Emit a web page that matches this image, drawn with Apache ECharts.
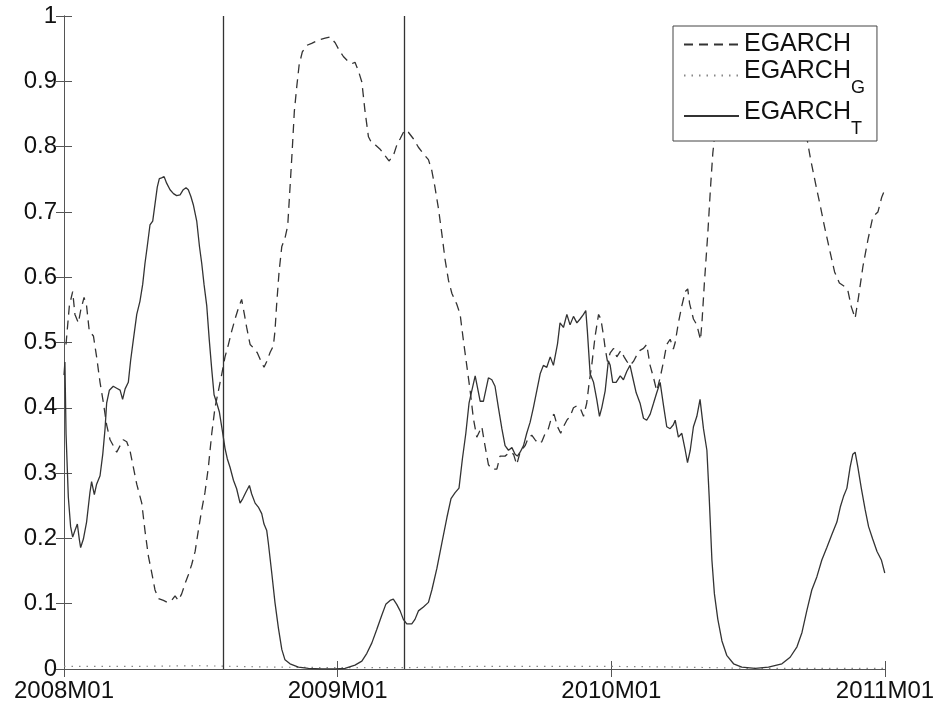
<!DOCTYPE html>
<html>
<head>
<meta charset="utf-8">
<script src="https://cdn.jsdelivr.net/npm/echarts@6/dist/echarts.min.js"></script>
<style>
html,body{margin:0;padding:0;background:#fff;}
#chart{width:942px;height:708px;}
</style>
</head>
<body>
<div id="chart"></div>
<script>
// x values are months since 2008M01
var xTickLabels = ['2008M01', '2009M01', '2010M01', '2011M01'];
var seriesNames = ['EGARCH', 'EGARCH_G', 'EGARCH_T'];
var regimeBreaks = [6.97, 14.93];

var egarch = [
[0.088,0.497],[0.234,0.556],[0.38,0.578],[0.48,0.543],[0.63,0.530],[0.73,0.549],[0.88,0.569],[0.99,0.556],[1.11,0.517],[1.29,0.510],[1.43,0.478],[1.58,0.439],[1.73,0.407],[1.87,0.374],[2.02,0.351],[2.16,0.342],[2.31,0.332],[2.46,0.342],[2.60,0.351],[2.75,0.348],[2.89,0.335],[3.04,0.309],[3.19,0.283],[3.41,0.254],[3.55,0.212],[3.70,0.173],[3.85,0.147],[3.99,0.121],[4.14,0.108],[4.36,0.105],[4.53,0.102],[4.72,0.105],[4.87,0.112],[5.01,0.105],[5.16,0.115],[5.31,0.131],[5.45,0.144],[5.60,0.160],[5.75,0.180],[5.89,0.212],[6.04,0.244],[6.18,0.270],[6.33,0.309],[6.48,0.361],[6.62,0.400],[6.77,0.426],[6.92,0.452],[7.06,0.478],[7.21,0.497],[7.35,0.517],[7.50,0.536],[7.65,0.553],[7.79,0.566],[7.91,0.543],[8.01,0.523],[8.16,0.497],[8.33,0.491],[8.48,0.484],[8.64,0.471],[8.77,0.462],[8.89,0.471],[9.04,0.485],[9.18,0.495],[9.25,0.517],[9.32,0.556],[9.43,0.608],[9.55,0.647],[9.69,0.660],[9.81,0.679],[9.91,0.737],[10.01,0.796],[10.10,0.854],[10.21,0.893],[10.31,0.925],[10.45,0.945],[10.64,0.955],[10.86,0.958],[11.15,0.963],[11.45,0.966],[11.67,0.968],[11.89,0.959],[12.06,0.948],[12.25,0.938],[12.44,0.931],[12.62,0.927],[12.76,0.929],[12.91,0.916],[13.06,0.899],[13.20,0.854],[13.35,0.815],[13.50,0.805],[13.67,0.802],[13.86,0.796],[14.08,0.786],[14.25,0.778],[14.44,0.786],[14.59,0.802],[14.74,0.812],[14.93,0.825],[15.10,0.822],[15.32,0.812],[15.54,0.799],[15.76,0.789],[15.98,0.780],[16.13,0.763],[16.27,0.737],[16.42,0.705],[16.57,0.666],[16.71,0.627],[16.86,0.595],[17.01,0.575],[17.22,0.559],[17.37,0.543],[17.51,0.504],[17.66,0.465],[17.81,0.426],[17.95,0.384],[18.10,0.355],[18.32,0.371],[18.46,0.342],[18.61,0.313],[18.76,0.306],[18.98,0.306],[19.12,0.326],[19.34,0.326],[19.56,0.332],[19.71,0.329],[19.85,0.313],[20.00,0.332],[20.22,0.342],[20.37,0.355],[20.51,0.358],[20.66,0.351],[20.80,0.345],[20.95,0.348],[21.10,0.361],[21.24,0.368],[21.39,0.387],[21.49,0.390],[21.64,0.371],[21.78,0.361],[21.90,0.371],[22.05,0.381],[22.19,0.387],[22.34,0.400],[22.49,0.403],[22.63,0.400],[22.78,0.387],[22.92,0.407],[23.03,0.439],[23.14,0.465],[23.29,0.510],[23.44,0.543],[23.54,0.536],[23.66,0.510],[23.73,0.491],[23.83,0.471],[23.95,0.484],[24.10,0.491],[24.24,0.478],[24.42,0.488],[24.56,0.478],[24.68,0.471],[24.82,0.465],[24.97,0.471],[25.12,0.481],[25.26,0.488],[25.41,0.491],[25.55,0.497],[25.70,0.465],[25.85,0.446],[25.99,0.426],[26.14,0.446],[26.29,0.471],[26.43,0.497],[26.58,0.505],[26.72,0.490],[26.80,0.500],[26.94,0.530],[27.09,0.556],[27.24,0.578],[27.35,0.582],[27.43,0.560],[27.60,0.536],[27.75,0.527],[27.91,0.504],[27.98,0.534],[28.08,0.591],[28.23,0.667],[28.35,0.738],[28.45,0.790],[28.60,0.84],[28.86,0.89],[29.43,0.92],[30.53,0.93],[31.62,0.91],[32.28,0.86],[32.54,0.82],[32.73,0.782],[32.98,0.739],[33.17,0.708],[33.35,0.677],[33.57,0.642],[33.79,0.608],[34.00,0.591],[34.22,0.586],[34.37,0.580],[34.52,0.555],[34.69,0.537],[34.84,0.570],[35.03,0.616],[35.25,0.657],[35.47,0.693],[35.69,0.700],[35.86,0.723],[35.98,0.733]
];

var egarchG = [
[0,0.004],[3,0.004],[6,0.005],[9,0.003],[12,0.002],[15,0.002],[18,0.004],[21,0.004],[24,0.004],[27,0.003],[30,0.001],[33,0.001],[36,0.001]
];

var egarchT = [
[0.00,0.45],[0.04,0.47],[0.09,0.36],[0.19,0.263],[0.29,0.218],[0.38,0.202],[0.48,0.212],[0.585,0.222],[0.67,0.199],[0.73,0.186],[0.85,0.199],[0.99,0.225],[1.14,0.271],[1.21,0.287],[1.33,0.267],[1.43,0.283],[1.58,0.296],[1.70,0.329],[1.80,0.368],[1.87,0.407],[1.99,0.427],[2.16,0.433],[2.31,0.430],[2.46,0.427],[2.57,0.413],[2.68,0.429],[2.82,0.439],[2.92,0.472],[3.04,0.504],[3.19,0.543],[3.33,0.563],[3.45,0.589],[3.55,0.621],[3.65,0.647],[3.77,0.680],[3.89,0.686],[3.99,0.712],[4.09,0.738],[4.18,0.751],[4.28,0.752],[4.39,0.754],[4.50,0.744],[4.65,0.734],[4.80,0.728],[4.94,0.725],[5.09,0.726],[5.23,0.734],[5.35,0.737],[5.45,0.734],[5.56,0.724],[5.67,0.711],[5.82,0.686],[5.94,0.647],[6.04,0.621],[6.14,0.589],[6.26,0.556],[6.37,0.504],[6.48,0.458],[6.58,0.420],[6.70,0.407],[6.81,0.394],[6.96,0.361],[7.06,0.338],[7.16,0.322],[7.28,0.309],[7.43,0.289],[7.57,0.276],[7.72,0.254],[7.84,0.261],[7.98,0.271],[8.13,0.281],[8.23,0.268],[8.38,0.254],[8.52,0.248],[8.67,0.238],[8.77,0.222],[8.89,0.212],[8.96,0.193],[9.11,0.147],[9.25,0.102],[9.40,0.063],[9.55,0.030],[9.69,0.014],[9.91,0.008],[10.28,0.003],[10.72,0.001],[11.30,0.0],[11.89,0.0],[12.32,0.001],[12.76,0.006],[13.06,0.012],[13.28,0.024],[13.50,0.040],[13.71,0.060],[13.93,0.082],[14.11,0.099],[14.30,0.105],[14.44,0.107],[14.59,0.099],[14.74,0.089],[14.88,0.076],[15.03,0.069],[15.25,0.069],[15.39,0.076],[15.54,0.089],[15.76,0.095],[15.98,0.102],[16.13,0.121],[16.35,0.154],[16.57,0.193],[16.79,0.232],[16.97,0.261],[17.15,0.270],[17.32,0.277],[17.47,0.322],[17.62,0.361],[17.76,0.407],[17.88,0.426],[18.03,0.449],[18.25,0.410],[18.39,0.410],[18.61,0.446],[18.76,0.443],[18.90,0.433],[19.05,0.400],[19.20,0.368],[19.34,0.342],[19.49,0.335],[19.64,0.339],[19.78,0.329],[19.88,0.326],[20.00,0.332],[20.15,0.342],[20.29,0.361],[20.44,0.378],[20.58,0.400],[20.73,0.426],[20.88,0.452],[21.02,0.465],[21.17,0.462],[21.32,0.478],[21.46,0.465],[21.64,0.498],[21.75,0.530],[21.90,0.523],[22.05,0.543],[22.19,0.527],[22.34,0.540],[22.49,0.530],[22.63,0.536],[22.78,0.543],[22.88,0.549],[22.95,0.517],[23.07,0.452],[23.22,0.439],[23.36,0.413],[23.48,0.387],[23.58,0.400],[23.73,0.426],[23.87,0.472],[23.95,0.465],[24.06,0.439],[24.21,0.439],[24.39,0.449],[24.53,0.443],[24.68,0.456],[24.82,0.465],[24.94,0.446],[25.09,0.423],[25.26,0.407],[25.41,0.384],[25.55,0.381],[25.70,0.390],[25.85,0.407],[25.99,0.423],[26.14,0.439],[26.29,0.403],[26.43,0.371],[26.58,0.368],[26.72,0.374],[26.80,0.381],[26.94,0.355],[27.09,0.361],[27.24,0.335],[27.34,0.316],[27.46,0.335],[27.60,0.371],[27.75,0.387],[27.89,0.413],[28.04,0.368],[28.19,0.335],[28.29,0.264],[28.41,0.167],[28.52,0.115],[28.67,0.076],[28.85,0.043],[29.06,0.021],[29.36,0.008],[29.72,0.003],[30.31,0.001],[30.89,0.003],[31.48,0.008],[31.84,0.018],[32.14,0.034],[32.36,0.056],[32.57,0.089],[32.79,0.121],[33.01,0.141],[33.23,0.167],[33.45,0.186],[33.67,0.206],[33.89,0.225],[34.04,0.248],[34.18,0.264],[34.33,0.277],[34.47,0.309],[34.59,0.329],[34.69,0.332],[34.81,0.309],[34.96,0.277],[35.13,0.244],[35.28,0.218],[35.46,0.199],[35.65,0.180],[35.84,0.167],[35.99,0.147]
];

var FONT = '"Liberation Sans", Arial, Helvetica, sans-serif';
var AXIS_COLOR = '#555';
var LINE_COLOR = '#333';

var chart = echarts.init(document.getElementById('chart'), null, {renderer: 'canvas'});

function legendText(name) {
  if (name === 'EGARCH_G') return '{m|EGARCH}{s|G}';
  if (name === 'EGARCH_T') return '{m|EGARCH}{s|T}';
  return '{p|' + name + '}';
}

var baseX = {
  type: 'value', min: 0, max: 36, interval: 12,
  axisLine: {show: true, lineStyle: {color: AXIS_COLOR, width: 1}},
  axisTick: {show: true, inside: true, length: 8, lineStyle: {color: AXIS_COLOR}},
  splitLine: {show: false}
};
var baseY = {
  type: 'value', min: 0, max: 1, interval: 0.1,
  axisLine: {show: true, lineStyle: {color: AXIS_COLOR, width: 1}},
  axisTick: {show: true, inside: true, length: 8, lineStyle: {color: AXIS_COLOR}},
  splitLine: {show: false}
};

var option = {
  animation: false,
  backgroundColor: '#fff',
  textStyle: {fontFamily: FONT},
  grid: {left: 64, right: 57, top: 16, bottom: 39, containLabel: false},
  xAxis: [
    Object.assign({}, baseX, {
      position: 'bottom',
      axisLabel: {
        show: true, margin: 10, fontSize: 24, color: '#111', fontFamily: FONT,
        formatter: function (v) { return xTickLabels[Math.round(v / 12)]; }
      }
    }),
    Object.assign({}, baseX, {position: 'top', axisLabel: {show: false}})
  ],
  yAxis: [
    Object.assign({}, baseY, {
      position: 'left',
      axisLabel: {show: true, margin: 7, fontSize: 24, color: '#111', fontFamily: FONT}
    }),
    Object.assign({}, baseY, {position: 'right', axisLabel: {show: false}})
  ],
  legend: {
    data: seriesNames,
    orient: 'vertical',
    left: 673, top: 26,
    padding: [6, 12, 3, 10],
    itemGap: 2,
    itemWidth: 55, itemHeight: 14,
    backgroundColor: '#fff',
    borderColor: '#444', borderWidth: 1, borderRadius: 0,
    selectedMode: false,
    itemStyle: {opacity: 0, borderWidth: 0},
    formatter: legendText,
    textStyle: {
      fontFamily: FONT, fontSize: 25, color: '#111',
      rich: {
        p: {fontFamily: FONT, fontSize: 25, color: '#111'},
        m: {fontFamily: FONT, fontSize: 25, color: '#111', padding: [0, 0, 8, 0]},
        s: {fontFamily: FONT, fontSize: 18, color: '#111', padding: [26, 0, 0, 0]}
      }
    }
  },
  series: [
    {
      name: 'EGARCH', type: 'line', data: egarch, showSymbol: false, symbol: 'none',
      color: LINE_COLOR,
      lineStyle: {color: LINE_COLOR, width: 1.3, type: [9, 6]},
      z: 3
    },
    {
      name: 'EGARCH_G', type: 'line', data: egarchG, showSymbol: false, symbol: 'none',
      color: '#888',
      lineStyle: {color: '#888', width: 1.2, type: [1.5, 6]},
      z: 2
    },
    {
      name: 'EGARCH_T', type: 'line', data: egarchT, showSymbol: false, symbol: 'none',
      color: LINE_COLOR,
      lineStyle: {color: LINE_COLOR, width: 1.3, type: 'solid'},
      z: 3,
      markLine: {
        silent: true, symbol: 'none', animation: false,
        label: {show: false},
        lineStyle: {color: LINE_COLOR, width: 1.3, type: 'solid'},
        data: regimeBreaks.map(function (m) { return {xAxis: m}; })
      }
    }
  ]
};

chart.setOption(option);
</script>
</body>
</html>
